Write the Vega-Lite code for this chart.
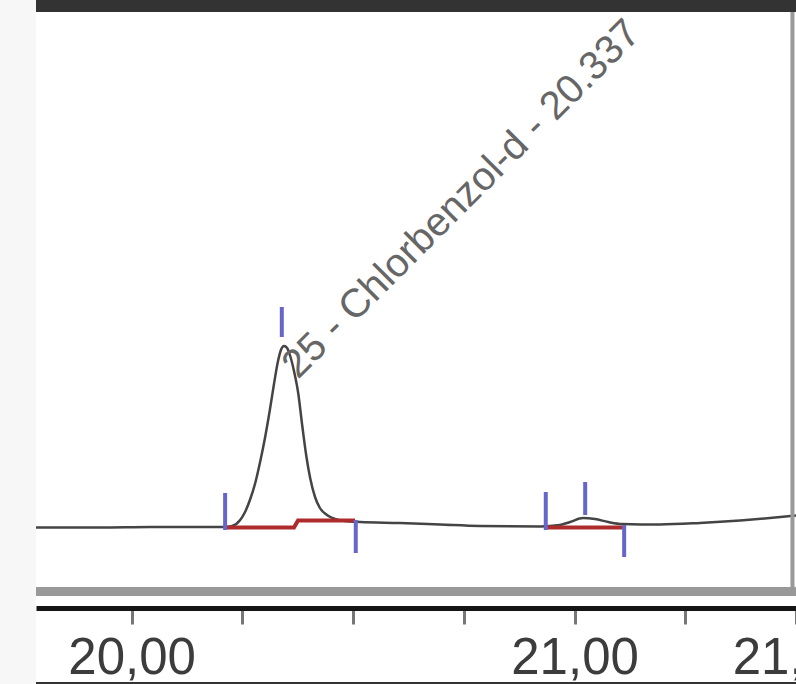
{
  "$schema": "https://vega.github.io/schema/vega-lite/v6.json",
  "width": 760,
  "height": 684,
  "autosize": "none",
  "padding": {"left": 36, "top": 0, "right": 0, "bottom": 0},
  "background": "#f7f7f7",
  "config": {
    "view": {"fill": "white", "stroke": null},
    "axisX": {
      "title": null, "grid": false,
      "labelFont": "Liberation Sans", "labelFontSize": 51, "labelColor": "#3c3c3c",
      "labelFlush": false, "labelOverlap": false, "labelBound": false, "labelPadding": 9,
      "tickSize": 16, "tickWidth": 3, "tickColor": "#777777",
      "domainColor": "#151515", "domainWidth": 5, "zindex": 1
    }
  },
  "datasets": {
    "trace": [
      {"t": 19.784, "v": -0.25}, {"t": 19.929, "v": -0.25}, {"t": 20.041, "v": 0}, {"t": 20.154, "v": 0},
      {"t": 20.211, "v": 0}, {"t": 20.227, "v": 0.5}, {"t": 20.245, "v": 3.5}, {"t": 20.256, "v": 7.5},
      {"t": 20.267, "v": 13.5}, {"t": 20.279, "v": 22}, {"t": 20.29, "v": 32.5}, {"t": 20.301, "v": 44.5},
      {"t": 20.312, "v": 58.5}, {"t": 20.321, "v": 71}, {"t": 20.33, "v": 82.5}, {"t": 20.337, "v": 88.5},
      {"t": 20.344, "v": 90.5}, {"t": 20.351, "v": 89.5}, {"t": 20.358, "v": 85.5}, {"t": 20.367, "v": 77.5},
      {"t": 20.376, "v": 67}, {"t": 20.385, "v": 51}, {"t": 20.394, "v": 36}, {"t": 20.403, "v": 24.5},
      {"t": 20.414, "v": 15}, {"t": 20.425, "v": 9.5}, {"t": 20.441, "v": 6}, {"t": 20.459, "v": 4},
      {"t": 20.482, "v": 3}, {"t": 20.516, "v": 2.5}, {"t": 20.606, "v": 2}, {"t": 20.696, "v": 1.25},
      {"t": 20.787, "v": 0.5}, {"t": 20.922, "v": 0.25}, {"t": 20.967, "v": 1}, {"t": 20.99, "v": 2.5},
      {"t": 21.019, "v": 4.5}, {"t": 21.046, "v": 4}, {"t": 21.076, "v": 2.5}, {"t": 21.107, "v": 1.5},
      {"t": 21.193, "v": 1.25}, {"t": 21.283, "v": 2}, {"t": 21.374, "v": 3.25}, {"t": 21.441, "v": 4.5},
      {"t": 21.5, "v": 5.75}
    ],
    "baselines": [
      {"seg": 1, "t": 20.213, "v": -0.25}, {"seg": 1, "t": 20.3665, "v": -0.25},
      {"seg": 1, "t": 20.3756, "v": 3.25}, {"seg": 1, "t": 20.5043, "v": 3.25},
      {"seg": 2, "t": 20.938, "v": -0.25}, {"seg": 2, "t": 21.109, "v": -0.25}
    ],
    "markers": [
      {"t": 20.211, "lo": -1.5, "hi": 17},
      {"t": 20.339, "lo": 95, "hi": 110},
      {"t": 20.506, "lo": -13, "hi": 3.5},
      {"t": 20.935, "lo": -1.5, "hi": 17.5},
      {"t": 21.024, "lo": 6, "hi": 22.5},
      {"t": 21.112, "lo": -15, "hi": 1}
    ],
    "labels": [
      {"t": 20.337, "v": 90.5, "label": "25 - Chlorbenzol-d - 20.337"}
    ]
  },
  "layer": [
    {
      "data": {"name": "trace"},
      "mark": {"type": "line", "color": "#444444", "strokeWidth": 2.5, "interpolate": "monotone"},
      "encoding": {
        "x": {
          "field": "t", "type": "quantitative",
          "scale": {"domain": [19.784, 21.5], "nice": false, "zero": false},
          "axis": {
            "orient": "bottom", "offset": -76,
            "values": [20, 20.25, 20.5, 20.75, 21, 21.25, 21.5],
            "labelExpr": "(datum.value == 20 || datum.value == 21 || datum.value == 21.5) ? replace(format(datum.value, '.2f'), '.', ',') : ''"
          }
        },
        "y": {"field": "v", "type": "quantitative", "scale": {"domain": [-78.5, 263.5], "nice": false, "zero": false}, "axis": null}
      }
    },
    {
      "data": {"values": [{}]},
      "mark": {"type": "rect", "color": "#333333"},
      "encoding": {
        "y": {"datum": 257.5, "type": "quantitative"},
        "y2": {"datum": 263.5}
      }
    },
    {
      "data": {"values": [{}]},
      "mark": {"type": "rect", "color": "#999999"},
      "encoding": {
        "y": {"datum": -30, "type": "quantitative"},
        "y2": {"datum": -34.5}
      }
    },
    {
      "data": {"values": [{}]},
      "mark": {"type": "rect", "color": "#333333"},
      "encoding": {
        "y": {"datum": -77.5, "type": "quantitative"},
        "y2": {"datum": -78.5}
      }
    },
    {
      "data": {"values": [{}]},
      "mark": {"type": "rule", "color": "#999999", "strokeWidth": 4},
      "encoding": {
        "x": {"datum": 21.492, "type": "quantitative"},
        "y": {"datum": -30, "type": "quantitative"},
        "y2": {"datum": 257.5}
      }
    },
    {
      "data": {"name": "baselines"},
      "mark": {"type": "line", "color": "#ad2b2b", "strokeWidth": 4},
      "encoding": {
        "x": {"field": "t", "type": "quantitative"},
        "y": {"field": "v", "type": "quantitative"},
        "detail": {"field": "seg"}
      }
    },
    {
      "data": {"name": "markers"},
      "mark": {"type": "rule", "color": "#6666c8", "strokeWidth": 4},
      "encoding": {
        "x": {"field": "t", "type": "quantitative"},
        "y": {"field": "lo", "type": "quantitative"},
        "y2": {"field": "hi"}
      }
    },
    {
      "data": {"name": "labels"},
      "mark": {"type": "text", "angle": 315, "align": "left", "baseline": "alphabetic", "dx": -12, "dy": 36, "font": "Liberation Sans", "fontSize": 40, "color": "#666666"},
      "encoding": {
        "x": {"field": "t", "type": "quantitative"},
        "y": {"field": "v", "type": "quantitative"},
        "text": {"field": "label"}
      }
    }
  ]
}
